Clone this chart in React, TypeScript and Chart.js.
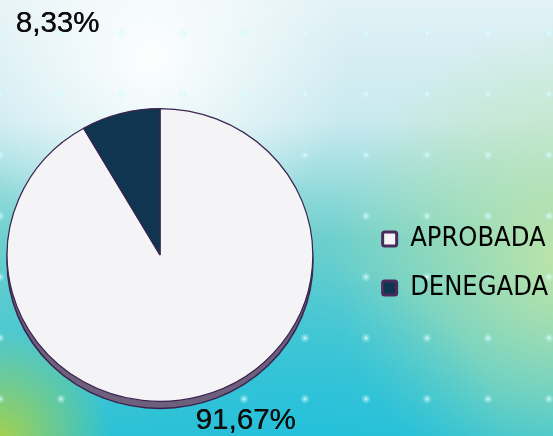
import { useEffect, useRef } from 'react';
import { Chart, registerables } from 'chart.js';

Chart.register(...registerables);

const categories = ['APROBADA', 'DENEGADA'];
const counts = [11, 1];
const sliceColors = ['#f4f4f6', '#0f3550'];

const W = 553;
const H = 436;

const backgroundPlugin = {
  id: 'backgroundPlugin',
  beforeDraw(chart: any) {
    const ctx = chart.ctx as CanvasRenderingContext2D;
    const w = chart.width;
    const h = chart.height;
    ctx.save();
    const g = ctx.createLinearGradient(0, 0, 0, h);
    g.addColorStop(0, '#e2f2f6');
    g.addColorStop(0.28, '#c8e9ef');
    g.addColorStop(0.55, '#6ccfcd');
    g.addColorStop(1, '#2cc1d5');
    ctx.fillStyle = g;
    ctx.fillRect(0, 0, w, h);
    const rad = (x: number, y: number, r: number, c0: string, c1: string) => {
      const rg = ctx.createRadialGradient(x, y, 0, x, y, r);
      rg.addColorStop(0, c0);
      rg.addColorStop(1, c1);
      ctx.fillStyle = rg;
      ctx.fillRect(0, 0, w, h);
    };
    rad(150, 60, 200, 'rgba(255,255,255,0.95)', 'rgba(255,255,255,0)');
    rad(570, 260, 240, 'rgba(196,230,165,0.95)', 'rgba(196,230,165,0)');
    rad(300, 470, 210, 'rgba(34,192,222,0.75)', 'rgba(34,192,222,0)');
    rad(0, 440, 110, 'rgba(172,210,70,0.95)', 'rgba(172,210,70,0)');
    for (let x = 0; x <= w + 2; x += 61) {
      for (let y = 33; y <= h + 2; y += 61) {
        const dg = ctx.createRadialGradient(x, y, 0, x, y, 5);
        dg.addColorStop(0, 'rgba(255,255,255,0.85)');
        dg.addColorStop(0.4, 'rgba(200,250,255,0.45)');
        dg.addColorStop(1, 'rgba(200,250,255,0)');
        ctx.fillStyle = dg;
        ctx.fillRect(x - 5, y - 5, 10, 10);
      }
    }
    ctx.restore();
  },
};

// Places the pie's drawing area independently of the legend box.
const pieAreaPlugin = {
  id: 'pieAreaPlugin',
  afterLayout(chart: any) {
    const left = 13;
    const top = 108;
    const size = 294;
    chart.chartArea = { left, top, right: left + size, bottom: top + size, width: size, height: size };
    if (chart.legend) {
      chart.legend.left += 5;
      chart.legend.right += 5;
    }
  },
};

const pieDecorPlugin = {
  id: 'pieDecorPlugin',
  beforeDatasetsDraw(chart: any) {
    const ctx = chart.ctx as CanvasRenderingContext2D;
    const arc = chart.getDatasetMeta(0).data[0];
    if (!arc) return;
    const { x, y, outerRadius } = arc;
    ctx.save();
    ctx.translate(x, y);
    ctx.scale(1.044, 1);
    ctx.translate(-x, -y);
    ctx.save();
    ctx.beginPath();
    ctx.arc(x, y + 7, outerRadius, 0, Math.PI * 2);
    ctx.fillStyle = '#6e5f7c';
    ctx.fill();
    ctx.lineWidth = 1.5;
    ctx.strokeStyle = '#3b2550';
    ctx.stroke();
    ctx.restore();
  },
  afterDatasetsDraw(chart: any) {
    const ctx = chart.ctx as CanvasRenderingContext2D;
    const meta = chart.getDatasetMeta(0);
    if (!meta.data[0]) return;
    ctx.restore();
    const total = counts.reduce((a, b) => a + b, 0);
    const rel = [
      [0.585, 1.136],
      [-0.7, -1.578],
    ];
    ctx.save();
    ctx.font = '29.5px "Liberation Sans", Arial, sans-serif';
    ctx.fillStyle = '#0d0d0d';
    ctx.textAlign = 'center';
    ctx.textBaseline = 'middle';
    meta.data.forEach((el: any, i: number) => {
      const pct = ((counts[i] / total) * 100).toFixed(2).replace('.', ',') + '%';
      const px = el.x + rel[i][0] * el.outerRadius;
      const py = el.y + rel[i][1] * el.outerRadius;
      ctx.fillText(pct, px, py);
      ctx.fillText(pct, px + 0.35, py);
    });
    ctx.restore();
  },
};

export default function App() {
  const ref = useRef<HTMLCanvasElement | null>(null);
  useEffect(() => {
    if (!ref.current) return;
    const chart = new Chart(ref.current, {
      type: 'pie',
      data: {
        labels: categories,
        datasets: [
          {
            data: counts,
            backgroundColor: sliceColors,
            borderColor: '#3b2550',
            borderWidth: 1.2,
            clip: false as any,
          },
        ],
      },
      options: {
        responsive: false,
        animation: false,
        layout: { padding: { left: 0, right: 0, top: 103, bottom: 12 } },
        plugins: {
          tooltip: { enabled: false },
          legend: {
            position: 'right',
            align: 'center',
            labels: {
              boxWidth: 14,
              boxHeight: 14,
              padding: 22,
              color: '#000000',
              font: { family: '"Liberation Sans Narrow", "DejaVu Sans Condensed", "Liberation Sans", Arial, sans-serif', size: 27 },
              generateLabels: () =>
                categories.map((c, i) => ({
                  text: c,
                  fillStyle: sliceColors[i],
                  strokeStyle: '#4a2a5c',
                  lineWidth: 3,
                  hidden: false,
                  index: i,
                  borderRadius: 2,
                  fontColor: '#000000',
                })),
            },
          },
        },
      },
      plugins: [backgroundPlugin, pieAreaPlugin, pieDecorPlugin],
    });
    return () => chart.destroy();
  }, []);
  return (
    <div style={{ position: 'absolute', left: 0, top: 0, width: W, height: H, overflow: 'hidden' }}>
      <canvas ref={ref} width={W} height={H} style={{ display: 'block', width: W, height: H }} />
    </div>
  );
}
